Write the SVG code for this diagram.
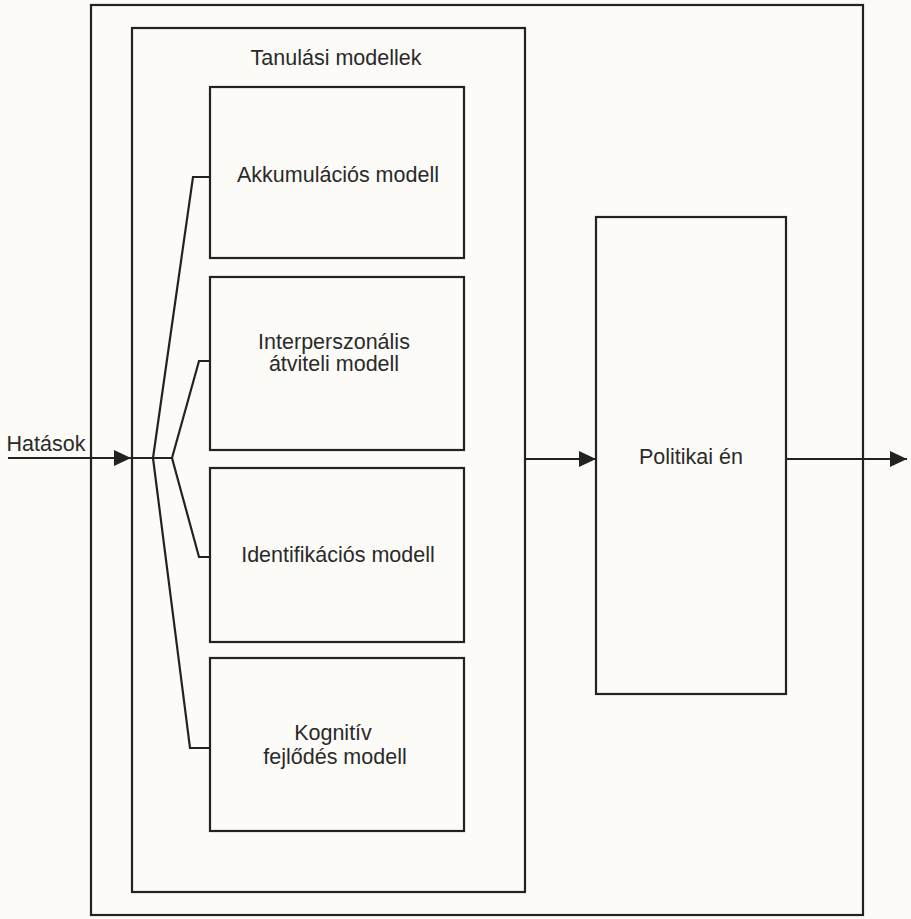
<svg xmlns="http://www.w3.org/2000/svg" width="911" height="919" viewBox="0 0 911 919">
<style>
.box{fill:none;stroke:#222;stroke-width:2.2}
.ln{fill:none;stroke:#222;stroke-width:2.2;stroke-linejoin:miter}
.t{font-family:"Liberation Sans",Arial,sans-serif;font-size:21.5px;fill:#2a2a2a;text-anchor:middle}
</style>
<defs>
<marker id="arr" markerWidth="18" markerHeight="18" refX="17" refY="9" orient="auto" markerUnits="userSpaceOnUse">
<path d="M0,1 L17,9 L0,17 Z" fill="#222"/>
</marker>
</defs>
<rect width="911" height="919" fill="#fcfbf7"/>
<g id="outer"><rect class="box" x="91" y="5" width="772" height="910"/></g>
<g id="tanulasi">
<rect class="box" x="132" y="28" width="393" height="864"/>
<text class="t" x="336" y="65">Tanulási modellek</text>
</g>
<g id="akkumulacios">
<rect class="box" x="210" y="87" width="254" height="171"/>
<text class="t" x="338" y="182">Akkumulációs modell</text>
</g>
<g id="interperszonalis">
<rect class="box" x="210" y="277" width="254" height="173"/>
<text class="t" x="334" y="349">Interperszonális</text>
<text class="t" x="334" y="371">átviteli modell</text>
</g>
<g id="identifikacios">
<rect class="box" x="210" y="468" width="254" height="174"/>
<text class="t" x="338" y="562">Identifikációs modell</text>
</g>
<g id="kognitiv">
<rect class="box" x="210" y="658" width="254" height="173"/>
<text class="t" x="333" y="740">Kognitív</text>
<text class="t" x="335" y="764">fejlődés modell</text>
</g>
<g id="politikai">
<rect class="box" x="596" y="217" width="190" height="477"/>
<text class="t" x="691" y="464">Politikai én</text>
</g>
<g id="hatasok-label">
<text class="t" x="46" y="451">Hatások</text>
</g>
<g id="connectors">
<line class="ln" x1="8" y1="458" x2="131" y2="458" marker-end="url(#arr)"/>
<line class="ln" x1="132" y1="458" x2="172" y2="458"/>
<polyline class="ln" points="153,458 193,177 210,177"/>
<polyline class="ln" points="172,458 199,361 210,361"/>
<polyline class="ln" points="172,458 199,557 210,557"/>
<polyline class="ln" points="153,458 190,748 210,748"/>
<line class="ln" x1="525" y1="459" x2="596" y2="459" marker-end="url(#arr)"/>
<line class="ln" x1="786" y1="459" x2="907" y2="459" marker-end="url(#arr)"/>
</g>
</svg>
